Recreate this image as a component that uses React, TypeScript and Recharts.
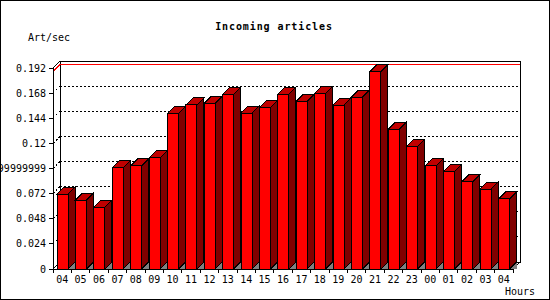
import React from 'react';
import { BarChart, Bar, XAxis, YAxis, ReferenceLine, ReferenceArea } from 'recharts';

const hours = ['04', '05', '06', '07', '08', '09', '10', '11', '12', '13', '14', '15', '16',
  '17', '18', '19', '20', '21', '22', '23', '00', '01', '02', '03', '04'];
const artPerSec = [0.0714, 0.0657, 0.0588, 0.0967, 0.0986, 0.1062, 0.1485, 0.1567, 0.1583,
  0.1668, 0.1488, 0.1541, 0.1668, 0.1601, 0.1677, 0.1564, 0.164, 0.1886, 0.1336, 0.1171,
  0.0986, 0.0929, 0.0834, 0.0764, 0.0669];
const yTicks = [0, 0.024, 0.048, 0.072, 0.096, 0.12, 0.144, 0.168, 0.192];
const yTickLabels = ['0', '0.024', '0.048', '0.072', '0.09599999999999999', '0.12', '0.144', '0.168', '0.192'];

const data = hours.map((hour, i) => ({ hour, rate: artPerSec[i] }));
const maxRate = Math.max(...artPerSec);

const D = 7; // 3d depth
const SLOT = 460 / hours.length;
const FONT = '"DejaVu Sans Mono", "Liberation Mono", monospace';

const Bar3D = (props: any) => {
  const { x, y, width: w, height: h } = props;
  const b = y + h;
  return (
    <g>
      <polygon points={`${x + w},${b} ${x + w + D},${b - D} ${x + w + D},${b}`} fill="#808080" />
      <polygon points={`${x + w},${y} ${x + w + D},${y - D} ${x + w + D},${b - D} ${x + w},${b}`} fill="#800000" stroke="#000" />
      <polygon points={`${x},${y} ${x + D},${y - D} ${x + w + D},${y - D} ${x + w},${y}`} fill="#c00000" stroke="#000" />
      <rect x={x} y={y} width={w} height={h} fill="#ff0000" stroke="#000" />
    </g>
  );
};

const BackFrame = (props: any) => {
  const { x, y, width, height } = props;
  const r = x + width;
  const b = y + height;
  return (
    <g fill="none" stroke="#000">
      <rect x={x + D} y={y - D} width={width} height={height} />
      <line x1={x} y1={y} x2={x + D} y2={y - D} />
      <line x1={x} y1={b} x2={x + D} y2={b - D} />
      <line x1={r} y1={b} x2={r + D} y2={b - D} />
    </g>
  );
};

const GridLine = (props: any) => {
  const { x1, y1, x2 } = props;
  return (
    <g stroke="#000" strokeDasharray="2 2">
      <line x1={x1} y1={y1} x2={x1 + D} y2={y1 - D} />
      <line x1={x1 + D} y1={y1 - D} x2={x2 + D} y2={y1 - D} />
    </g>
  );
};

const MaxLine = (props: any) => {
  const { x1, y1, x2 } = props;
  return (
    <polyline points={`${x1},${y1} ${x1 + D},${y1 - D} ${x2 + D},${y1 - D}`} fill="none" stroke="#ff0000" />
  );
};

const HourTick = (props: any) => {
  const { x, y, payload, index } = props;
  return (
    <g>
      <line x1={x - SLOT / 2} y1={y - 4} x2={x - SLOT / 2} y2={y} stroke="#000" />
      {index === hours.length - 1 && (
        <line x1={x + SLOT / 2} y1={y - 4} x2={x + SLOT / 2} y2={y} stroke="#000" />
      )}
      <text x={x} y={y + 10} textAnchor="middle" fontFamily={FONT} fontSize={10} fill="#000">
        {payload.value}
      </text>
    </g>
  );
};

export default function App() {
  return (
    <div style={{ position: 'absolute', left: 0, top: 0, width: 550, height: 300, background: '#fff' }}>
      <style>{'svg line, svg rect, svg polygon, svg polyline, svg path { shape-rendering: crispEdges; }'}</style>
      <BarChart width={550} height={300} data={data} margin={{ top: 68, right: 37, bottom: 0, left: 0 }} barSize={11}>
        <ReferenceArea y1={0} y2={0.192} shape={BackFrame} zIndex={-10} />
        {yTicks.slice(1, -1).map((v) => (
          <ReferenceLine key={v} y={v} shape={GridLine} zIndex={-10} />
        ))}
        <ReferenceLine y={maxRate} shape={MaxLine} zIndex={-10} />
        <XAxis
          dataKey="hour"
          interval={0}
          height={31}
          tickLine={false}
          tickSize={4}
          tickMargin={0}
          axisLine={{ stroke: '#000' }}
          tick={HourTick}
        />
        <YAxis
          width={53}
          domain={[0, 0.192]}
          ticks={yTicks}
          interval={0}
          tickSize={4}
          tickMargin={3}
          tickFormatter={(v: number) => yTickLabels[yTicks.indexOf(v)]}
          tick={{ fill: '#000', fontSize: 10, fontFamily: FONT }}
          axisLine={{ stroke: '#000' }}
          tickLine={{ stroke: '#000' }}
        />
        <Bar dataKey="rate" shape={Bar3D} isAnimationActive={false} />
      </BarChart>
      <svg width={550} height={300} style={{ position: 'absolute', left: 0, top: 0, pointerEvents: 'none' }}>
        <rect x={0.5} y={0.5} width={549} height={299} fill="none" stroke="#000" />
        <text x={274} y={29.5} textAnchor="middle" fontFamily={FONT} fontSize={10} fontWeight="bold" letterSpacing={0.9} fill="#000">
          Incoming articles
        </text>
        <text x={28} y={41} fontFamily={FONT} fontSize={10} fill="#000">Art/sec</text>
        <text x={505} y={295} fontFamily={FONT} fontSize={10} fill="#000">Hours</text>
      </svg>
    </div>
  );
}
